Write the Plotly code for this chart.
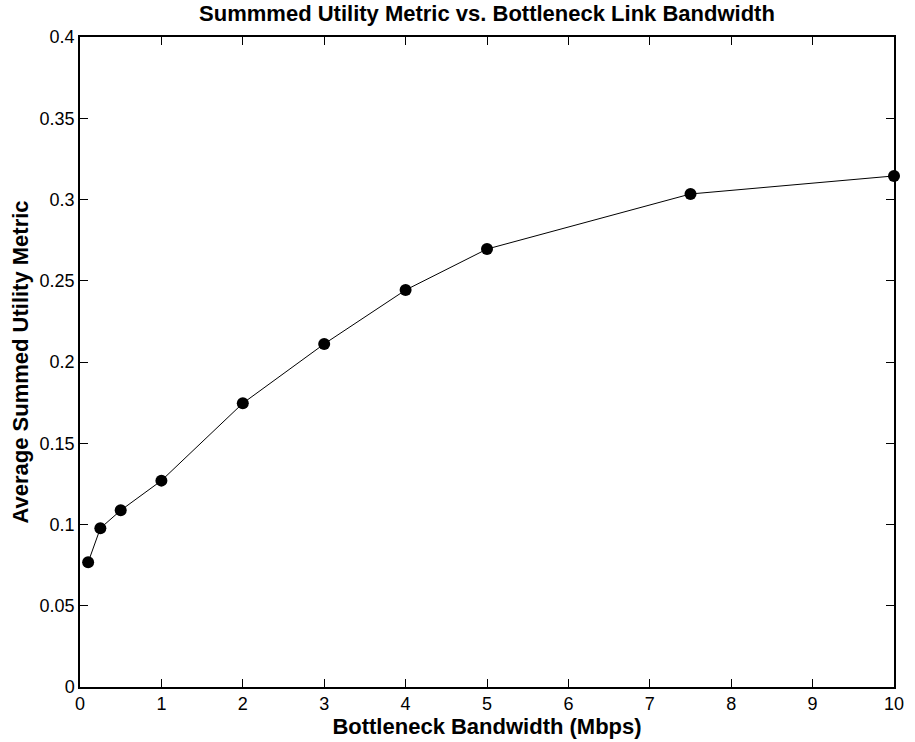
import plotly.graph_objects as go

bandwidth = [0.1, 0.25, 0.5, 1, 2, 3, 4, 5, 7.5, 10]
utility = [0.0767, 0.0977, 0.1087, 0.127, 0.1746, 0.2111, 0.2443, 0.2695, 0.3034, 0.3145]

x_ticks = [0, 1, 2, 3, 4, 5, 6, 7, 8, 9, 10]
y_ticks = [0, 0.05, 0.1, 0.15, 0.2, 0.25, 0.3, 0.35, 0.4]
y_tick_text = ["0", "0.05", "0.1", "0.15", "0.2", "0.25", "0.3", "0.35", "0.4"]

FONT = "Liberation Sans, Arial, sans-serif"

fig = go.Figure()
fig.add_trace(go.Scatter(
    x=bandwidth, y=utility, mode="lines+markers",
    line=dict(color="black", width=1),
    marker=dict(color="black", size=12),
    cliponaxis=False, showlegend=False,
))

axis_common = dict(
    showgrid=False, zeroline=False, showline=True, linecolor="black", linewidth=1.5,
    mirror="allticks", ticks="inside", ticklen=8, tickcolor="black", tickwidth=1,
    tickfont=dict(family=FONT, size=18, color="black"),
)

fig.update_layout(
    width=915, height=742,
    margin=dict(l=80, r=11, t=37, b=55),
    plot_bgcolor="white", paper_bgcolor="white",
    title=dict(text="<b>Summmed Utility Metric vs. Bottleneck Link Bandwidth</b>",
               x=0.5, xanchor="center", xref="paper", y=0.982, yanchor="middle",
               font=dict(family=FONT, size=22, color="black")),
    xaxis=dict(range=[0, 10], tickvals=x_ticks, ticktext=[str(v) for v in x_ticks],
               title=dict(text="<b>Bottleneck Bandwidth (Mbps)</b>", standoff=1,
                          font=dict(family=FONT, size=22, color="black")),
               **axis_common),
    yaxis=dict(range=[0, 0.4], tickvals=y_ticks, ticktext=y_tick_text,
               title=dict(text="<b>Average Summed Utility Metric</b>", standoff=5,
                          font=dict(family=FONT, size=22, color="black")),
               **axis_common),
)

fig.write_html("out.html")
